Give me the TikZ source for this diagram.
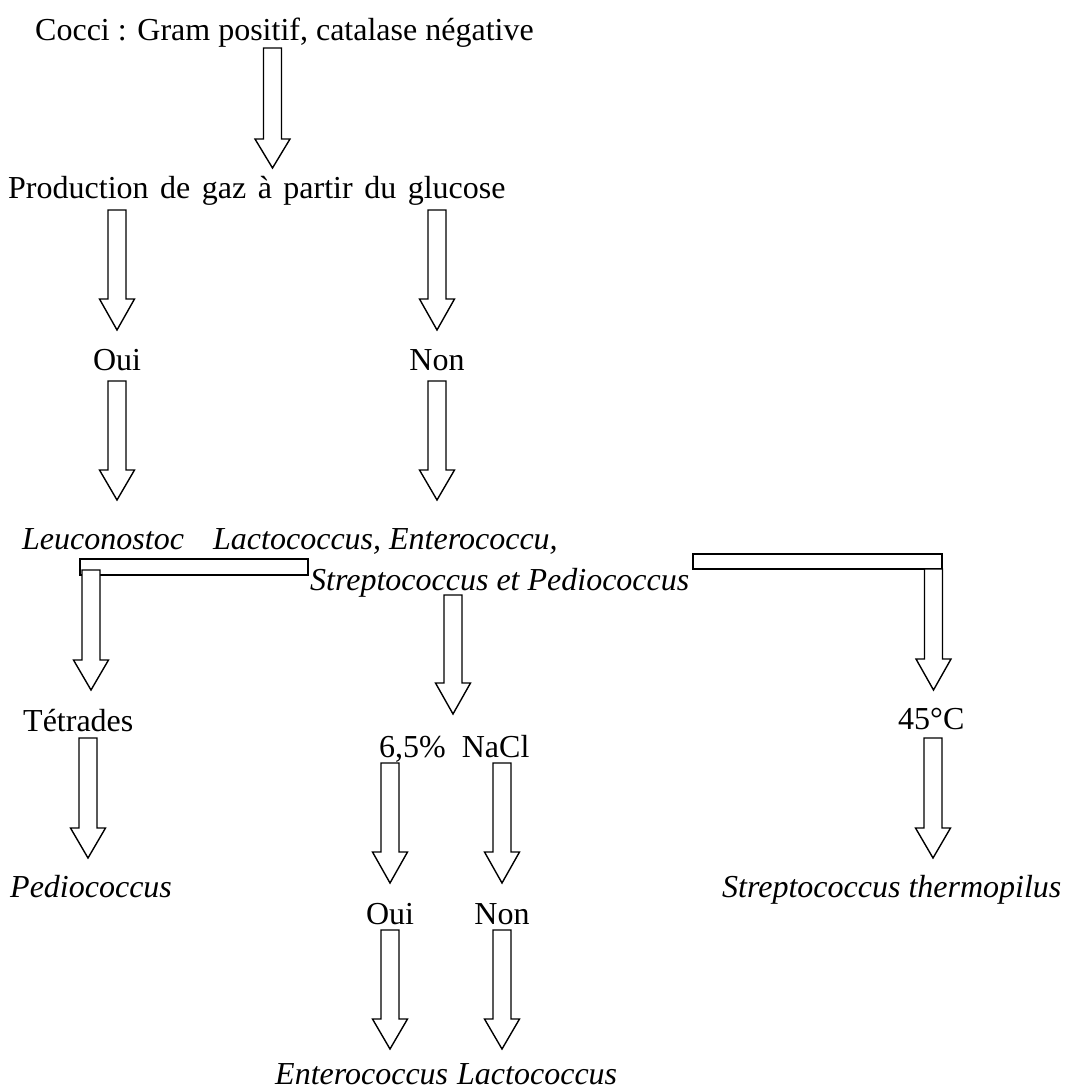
\documentclass[tikz,border=0pt]{standalone}
\usepackage{fontspec}
\setmainfont{Liberation Serif}
\begin{document}
\begin{tikzpicture}[x=1pt,y=-1pt,
  lbl/.style={inner sep=0pt,anchor=base,font=\fontsize{32}{38}\selectfont},
  lblw/.style={inner sep=0pt,anchor=base west,font=\fontsize{32}{38}\selectfont},
  barrow/.style={draw=black,fill=white,line width=1.4pt,line join=miter}]
\useasboundingbox (0,0) rectangle (1069,1092);
\newcommand{\blockarrow}[4]{%
  \draw[barrow] (#1-9,#2) -- (#1+9,#2) -- (#1+9,#3) -- (#1+17.5,#3) -- (#1,#4)
     -- (#1-17.5,#3) -- (#1-9,#3) -- cycle;}
% texts
\node[lblw] (cocci) at (35,40) {Cocci : Gram positif, catalase négative};
\node[lblw] (prod) at (8,198) {\spaceskip=11.5pt Production de gaz à partir du glucose};
\node[lbl] (oui1) at (117,370) {Oui};
\node[lbl] (non1) at (437,370) {Non};
\node[lblw] (leuco) at (22,549) {\itshape Leuconostoc};
\node[lblw] (lacto1) at (213,549) {\itshape Lactococcus, Enterococcu,};
\node[lblw] (strep1) at (310,590) {\itshape Streptococcus et Pediococcus};
\node[lblw] (tetr) at (23,731) {Tétrades};
\node[lblw] (nacl) at (379,757) {6,5\%\ \ NaCl};
\node[lblw] (deg) at (898,729) {45°C};
\node[lblw] (pedio) at (10,897) {\itshape Pediococcus};
\node[lbl] (oui2) at (390,924) {Oui};
\node[lbl] (non2) at (502,924) {Non};
\node[lblw] (therm) at (722,897) {\itshape Streptococcus thermopilus};
\node[lblw] (entero) at (275,1084) {\itshape Enterococcus};
\node[lblw] (lacto2) at (457,1084) {\itshape Lactococcus};
% arrows
\blockarrow{272.5}{48}{139}{168}
\blockarrow{117}{210}{299}{330}
\blockarrow{437}{210}{299}{330}
\blockarrow{117}{381}{470}{500}
\blockarrow{437}{381}{470}{500}
% bars
\draw[barrow] (80,559) rectangle (308,575);
\draw[barrow] (693,554) rectangle (942,569);
\blockarrow{91}{570}{660}{690}
\blockarrow{933.5}{569}{659}{690}
\blockarrow{453}{595}{683}{714}
\blockarrow{88}{738}{828}{858}
\blockarrow{933}{738}{828}{858}
\blockarrow{390}{763}{852}{883}
\blockarrow{502}{763}{852}{883}
\blockarrow{390}{930}{1019}{1049}
\blockarrow{502}{930}{1019}{1049}
\end{tikzpicture}
\end{document}
